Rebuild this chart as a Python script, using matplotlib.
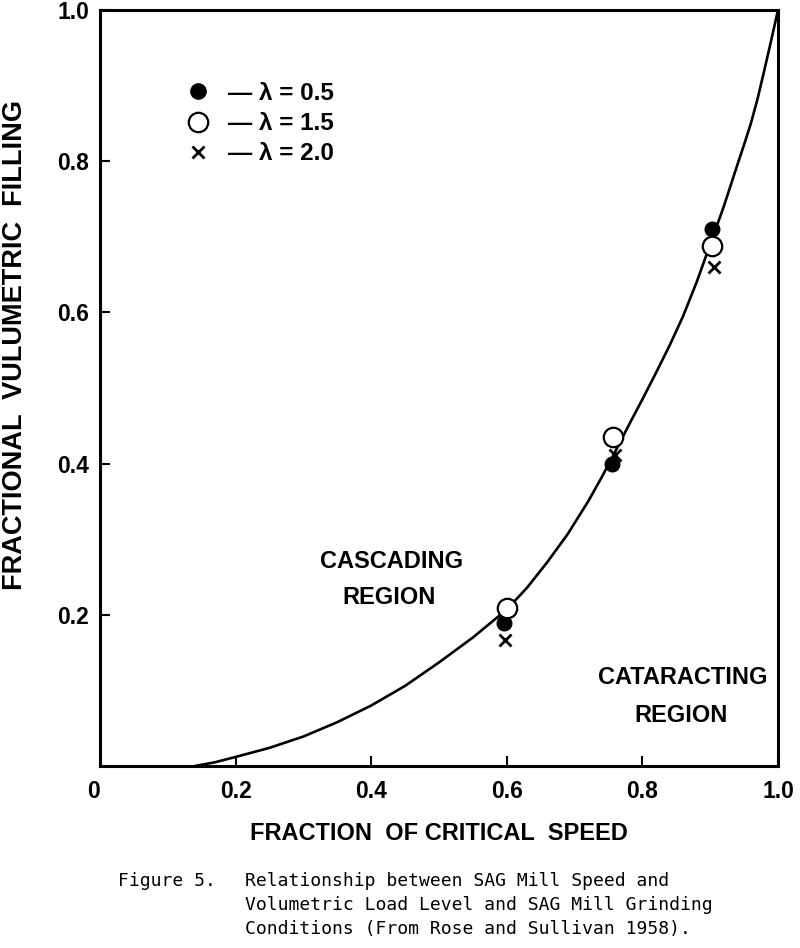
import matplotlib
matplotlib.use("Agg")
import matplotlib.pyplot as plt
from matplotlib.lines import Line2D

# ---- data ----
curve_x = [0.14, 0.17, 0.20, 0.25, 0.30, 0.35, 0.40, 0.45, 0.50, 0.55, 0.60, 0.63,
           0.66, 0.69, 0.72, 0.74, 0.76, 0.78, 0.80, 0.82, 0.84, 0.86, 0.88, 0.90,
           0.92, 0.94, 0.95, 0.96, 0.97, 0.98, 0.99, 1.00]
curve_y = [0.000, 0.005, 0.012, 0.024, 0.039, 0.058, 0.080, 0.106, 0.137, 0.170, 0.207, 0.236,
           0.270, 0.307, 0.350, 0.382, 0.416, 0.451, 0.485, 0.520, 0.556, 0.595, 0.640, 0.690,
           0.740, 0.795, 0.822, 0.850, 0.883, 0.921, 0.960, 1.000]

lam05_x = [0.596, 0.755, 0.903]
lam05_y = [0.189, 0.400, 0.710]
lam15_x = [0.600, 0.757, 0.902]
lam15_y = [0.209, 0.435, 0.688]
lam20_x = [0.598, 0.760, 0.906]
lam20_y = [0.167, 0.412, 0.660]

legend_labels = ["— λ = 0.5", "— λ = 1.5", "— λ = 2.0"]
x_ticks = [0, 0.2, 0.4, 0.6, 0.8, 1.0]
x_ticklabels = ["0", "0.2", "0.4", "0.6", "0.8", "1.0"]
y_ticks = [0.2, 0.4, 0.6, 0.8, 1.0]
y_ticklabels = ["0.2", "0.4", "0.6", "0.8", "1.0"]

caption_head = "Figure 5."
caption_lines = ["Relationship between SAG Mill Speed and",
                 "Volumetric Load Level and SAG Mill Grinding",
                 "Conditions (From Rose and Sullivan 1958)."]

plt.rcParams['font.family'] = ['Liberation Sans', 'DejaVu Sans']

W, H = 800, 948
fig = plt.figure(figsize=(W / 100, H / 100), dpi=100)
ax = fig.add_axes([100 / W, 1 - 766 / H, 678 / W, 756 / H])
ax.set_xlim(0, 1.0)
ax.set_ylim(0, 1.0)

for s in ax.spines.values():
    s.set_linewidth(2.2)
    s.set_color('black')

ax.plot(curve_x, curve_y, color='black', lw=1.9, solid_capstyle='round',
        solid_joinstyle='round', zorder=2)

ax.plot(lam05_x, lam05_y, 'o', ms=10.5, color='black', mec='black', zorder=3)
ax.plot(lam15_x, lam15_y, 'o', ms=14, mfc='white', mec='black', mew=1.6, zorder=4)
ax.plot(lam20_x, lam20_y, 'x', ms=8, color='black', mew=2.0, zorder=5)

ax.set_xticks(x_ticks)
ax.set_xticklabels(x_ticklabels)
ax.set_yticks(y_ticks)
ax.set_yticklabels(y_ticklabels)
ax.tick_params(axis='x', direction='in', length=7, width=1.5, pad=10,
               labelsize=16.5, top=False)
ax.tick_params(axis='y', direction='in', length=7, width=1.5, pad=8,
               labelsize=16.5, right=False)
for lab in ax.get_xticklabels() + ax.get_yticklabels():
    lab.set_fontweight('bold')
ax.get_xticklabels()[0].set_horizontalalignment('right')

ax.set_xlabel("FRACTION  OF CRITICAL  SPEED", fontsize=17, fontweight='bold', labelpad=14)
ax.set_ylabel("FRACTIONAL  VULUMETRIC  FILLING", fontsize=19.5, fontweight='bold')
ax.yaxis.set_label_coords(-(100 - 15) / 678, (766 - 345) / 756)
ax.yaxis.label.set_verticalalignment('center')

handles = [Line2D([], [], ls='none', marker='o', ms=11, color='black'),
           Line2D([], [], ls='none', marker='o', ms=14, mfc='white', mec='black', mew=1.6),
           Line2D([], [], ls='none', marker='x', ms=8, color='black', mew=2.0)]
leg = ax.legend(handles, legend_labels, loc='upper left', bbox_to_anchor=(0.108, 0.921),
                frameon=False, fontsize=17.5, handlelength=1.0, handletextpad=0.75,
                labelspacing=0.3, borderpad=0)
for t in leg.get_texts():
    t.set_fontweight('bold')

fs_r = 17
ax.text((392 - 100) / 678, (766 - 562) / 756, "CASCADING", ha='center', va='center',
        fontsize=fs_r, fontweight='bold', transform=ax.transAxes)
ax.text((389 - 100) / 678, (766 - 598) / 756, "REGION", ha='center', va='center',
        fontsize=fs_r, fontweight='bold', transform=ax.transAxes)
ax.text((683 - 100) / 678, (766 - 677) / 756, "CATARACTING", ha='center', va='center',
        fontsize=fs_r, fontweight='bold', transform=ax.transAxes)
ax.text((681 - 100) / 678, (766 - 715) / 756, "REGION", ha='center', va='center',
        fontsize=fs_r, fontweight='bold', transform=ax.transAxes)

fig.text(118 / W, 1 - 881 / H, caption_head, ha='left', va='center',
         family='DejaVu Sans Mono', fontsize=13)
for i, line in enumerate(caption_lines):
    fig.text(245 / W, 1 - (881 + 24 * i) / H, line, ha='left', va='center',
             family='DejaVu Sans Mono', fontsize=13)

fig.savefig("out.png", dpi=100)
